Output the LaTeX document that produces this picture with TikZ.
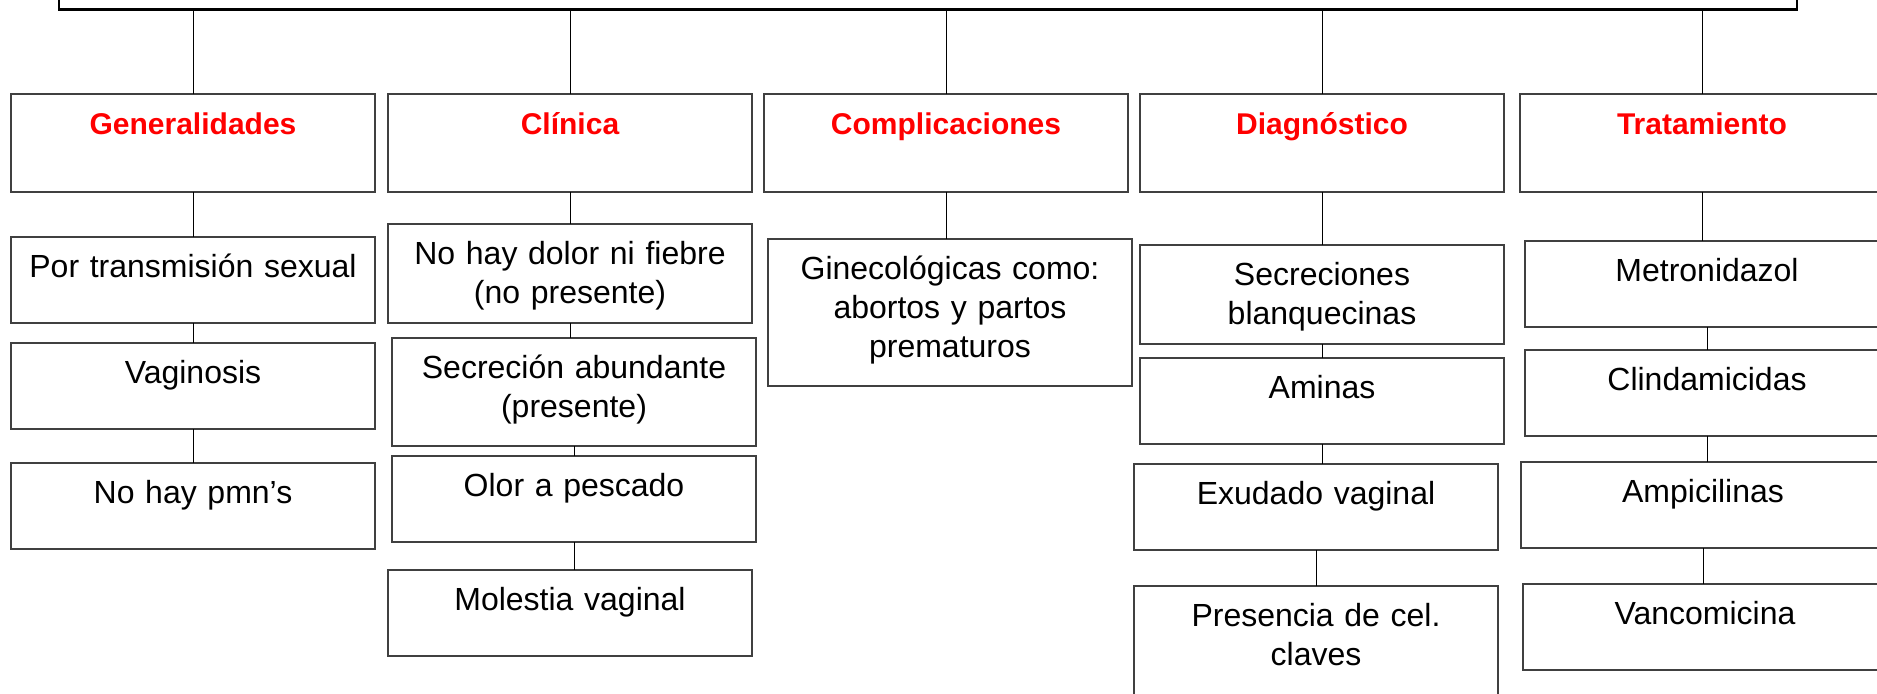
\documentclass[tikz,border=0pt]{standalone}
\usepackage{fontspec}
\setmainfont{Liberation Sans}
\usetikzlibrary{positioning}
\definecolor{boxgray}{RGB}{64,64,64}

\begin{document}
\begin{tikzpicture}[x=0.5pt,y=-0.5pt,
  hdr/.style={draw=boxgray, line width=0.6pt, inner sep=0pt, outer sep=0pt,
    text width=182pt, align=center, text height=20pt, text depth=29pt,
    text=red, font=\bfseries\fontsize{15}{18}\selectfont},
  item/.style={draw=boxgray, line width=0.6pt, inner sep=0pt, outer sep=0pt,
    text width=182pt, align=center, text height=20pt, text depth=23pt,
    font=\fontsize{16}{19.5}\selectfont},
  conn/.style={draw=black, line width=0.5pt}]
 \useasboundingbox (0,0) rectangle (1877,693);
 \clip (0,0) rectangle (1877,693);
 %
 \node[draw, line width=1.3pt, inner sep=0pt, outer sep=0pt, minimum width=869pt,
   minimum height=30pt, anchor=south west] (main) at (59,9.5) {};
 %
 \node[hdr, anchor=north west] (gen) at (11,94) {Generalidades};
 \node[hdr, right=6.5pt of gen] (cli) {Clínica};
 \node[hdr, right=6pt of cli] (comp) {Complicaciones};
 \node[hdr, right=6pt of comp] (diag) {Diagnóstico};
 \node[hdr, right=8pt of diag] (trat) {Tratamiento};
 %
 \node[item, below=22.5pt of gen] (por) {Por transmisión sexual};
 \node[item, below=10pt of por] (vag) {Vaginosis};
 \node[item, below=17pt of vag] (pmn) {No hay pmn’s};
 %
 \node[item, below=16pt of cli, text depth=29.5pt] (dolor) {No hay dolor ni fiebre\\(no presente)};
 \node[item, below=7.5pt of dolor, xshift=2pt, text depth=34pt] (secr) {Secreción abundante\\(presente)};
 \node[item, below=5pt of secr] (olor) {Olor a pescado};
 \node[item, below=14pt of olor, xshift=-2pt] (mol) {Molestia vaginal};
 %
 \node[item, below=23.5pt of comp, xshift=2pt, text depth=53.5pt] (gine) {Ginecológicas como:\\abortos y partos\\prematuros};
 %
 \node[item, below=26.5pt of diag, text depth=29.5pt] (blanq) {Secreciones\\blanquecinas};
 \node[item, below=7pt of blanq] (amin) {Aminas};
 \node[item, below=10pt of amin, xshift=-3pt] (exud) {Exudado vaginal};
 \node[item, below=18pt of exud, text depth=40pt] (pres) {Presencia de cel.\\claves};
 %
 \node[item, below=24.5pt of trat, xshift=2.5pt] (metro) {Metronidazol};
 \node[item, below=11.5pt of metro] (clin) {Clindamicidas};
 \node[item, below=13pt of clin, xshift=-2pt] (ampi) {Ampicilinas};
 \node[item, below=18pt of ampi, xshift=1pt] (vanc) {Vancomicina};
 %
 \draw[conn] (gen.north) -- (gen.north |- main.south)
   (cli.north) -- (cli.north |- main.south)
   (comp.north) -- (comp.north |- main.south)
   (diag.north) -- (diag.north |- main.south)
   (trat.north) -- (trat.north |- main.south);
 \draw[conn] (gen.south) -- (gen.south |- por.north)
   (por.south) -- (por.south |- vag.north)
   (vag.south) -- (vag.south |- pmn.north);
 \draw[conn] (cli.south) -- (cli.south |- dolor.north)
   (dolor.south) -- (dolor.south |- secr.north)
   (secr.south) -- (secr.south |- olor.north)
   (olor.south) -- (olor.south |- mol.north);
 \draw[conn] (comp.south) -- (comp.south |- gine.north);
 \draw[conn] (diag.south) -- (diag.south |- blanq.north)
   (blanq.south) -- (blanq.south |- amin.north)
   (amin.south) -- (amin.south |- exud.north)
   (exud.south) -- (exud.south |- pres.north);
 \draw[conn] (trat.south) -- (trat.south |- metro.north)
   (metro.south) -- (metro.south |- clin.north)
   (clin.south) -- (clin.south |- ampi.north)
   (ampi.south) -- (ampi.south |- vanc.north);
\end{tikzpicture}
\end{document}
